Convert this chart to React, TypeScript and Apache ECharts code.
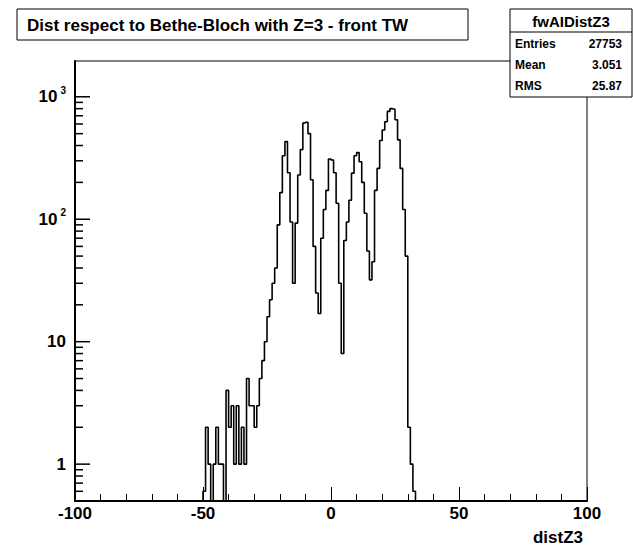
import React, { useEffect, useRef } from "react";
import * as echarts from "echarts";

// ---- data ----
const histTitle = "Dist respect to Bethe-Bloch with Z=3 - front TW";
const histName = "fwAIDistZ3";
const statsLabels = ["Entries", "Mean", "RMS"];
const statsValues = ["27753", "3.051", "25.87"];
const xAxisTitle = "distZ3";

// low edges of the (1 unit wide) bins that hold entries
const binLowEdges = [
  -50, -49, -48, -47, -46, -45, -44, -43, -42, -41,
  -40, -39, -38, -37, -36, -35, -34, -33, -32, -31,
  -30, -29, -28, -27, -26, -25, -24, -23, -22, -21,
  -20, -19, -18, -17, -16, -15, -14, -13, -12, -11,
  -10, -9, -8, -7, -6, -5, -4, -3, -2, -1,
  0, 1, 2, 3, 4, 5, 6, 7, 8, 9,
  10, 11, 12, 13, 14, 15, 16, 17, 18, 19,
  20, 21, 22, 23, 24, 25, 26, 27, 28, 29,
  30, 31, 32,
];
const binCounts = [
  0.6, 2, 1, 0, 1, 2, 1, 1, 0, 4,
  2, 3, 1, 3, 1, 2, 1, 5, 3, 3,
  2, 3, 5, 7, 10, 16, 22, 30, 40, 90,
  165, 330, 430, 240, 95, 30, 93, 230, 370, 610,
  620, 500, 210, 60, 25, 17, 70, 120, 172, 310,
  305, 240, 135, 30, 8, 67, 95, 143, 238, 330,
  350, 295, 200, 112, 55, 32, 45, 172, 260, 440,
  535, 625, 760, 800, 790, 650, 445, 260, 120, 50,
  2, 1, 0.6,
];

const xRange = [-100, 100];
const xMajorStep = 50;
const yRange = [0.5, 1960];
const yMajorTicks = [1, 10, 100, 1000];
const yMinorTicks = [
  0.6, 0.7, 0.8, 0.9,
  2, 3, 4, 5, 6, 7, 8, 9,
  20, 30, 40, 50, 60, 70, 80, 90,
  200, 300, 400, 500, 600, 700, 800, 900,
];

const FONT = "'Liberation Sans', Arial, Helvetica, sans-serif";

export default function App() {
  const ref = useRef<HTMLDivElement>(null);

  useEffect(() => {
    if (!ref.current) return;
    const chart = echarts.init(ref.current, null, { renderer: "svg" });

    const floor = yRange[0];
    const stepData: number[][] = [[xRange[0], floor]];
    binLowEdges.forEach((e, i) => stepData.push([e, Math.max(binCounts[i], floor)]));
    stepData.push([binLowEdges[binLowEdges.length - 1] + 1, floor]);
    stepData.push([xRange[1], floor]);

    const tickData = [
      ...yMajorTicks.map((v) => [xRange[0], v, 1]),
      ...yMinorTicks.map((v) => [xRange[0], v, 0]),
    ];

    const graphics: any[] = [
      {
        type: "rect",
        z: 100,
        shape: { x: 17, y: 9, width: 451, height: 31 },
        style: { fill: "#fff", stroke: "#000", lineWidth: 1 },
      },
      {
        type: "text",
        z: 101,
        x: 27,
        y: 25,
        style: {
          text: histTitle,
          fill: "#000",
          font: "bold 17px " + FONT,
          textAlign: "left",
          textVerticalAlign: "middle",
        },
      },
      {
        type: "rect",
        z: 100,
        shape: { x: 510, y: 9, width: 122, height: 88 },
        style: { fill: "#fff", stroke: "#000", lineWidth: 1 },
      },
      {
        type: "line",
        z: 101,
        shape: { x1: 510, y1: 32, x2: 632, y2: 32 },
        style: { stroke: "#000", lineWidth: 1 },
      },
      {
        type: "text",
        z: 101,
        x: 571,
        y: 21,
        style: {
          text: histName,
          fill: "#000",
          font: "bold 15px " + FONT,
          textAlign: "center",
          textVerticalAlign: "middle",
        },
      },
      ...statsLabels.map((s, i) => ({
        type: "text",
        z: 101,
        x: 515,
        y: 44 + i * 21,
        style: {
          text: s,
          fill: "#000",
          font: "bold 12px " + FONT,
          textAlign: "left",
          textVerticalAlign: "middle",
        },
      })),
      ...statsValues.map((s, i) => ({
        type: "text",
        z: 101,
        x: 622,
        y: 44 + i * 21,
        style: {
          text: s,
          fill: "#000",
          font: "bold 12px " + FONT,
          textAlign: "right",
          textVerticalAlign: "middle",
        },
      })),
      {
        type: "text",
        z: 101,
        x: 583,
        y: 537,
        style: {
          text: xAxisTitle,
          fill: "#000",
          font: "bold 17px " + FONT,
          textAlign: "right",
          textVerticalAlign: "middle",
        },
      },
    ];

    const option: any = {
      animation: false,
      grid: {
        left: 75,
        top: 61,
        width: 512,
        height: 440,
        show: true,
        borderColor: "#000",
        borderWidth: 1,
      },
      xAxis: {
        type: "value",
        min: xRange[0],
        max: xRange[1],
        interval: xMajorStep,
        axisLine: { show: true, onZero: false, lineStyle: { color: "#000", width: 2 } },
        axisTick: { show: true, inside: true, length: 14, lineStyle: { color: "#000", width: 1 } },
        minorTick: { show: true, splitNumber: 5, length: 7, lineStyle: { color: "#000", width: 1 } },
        splitLine: { show: false },
        minorSplitLine: { show: false },
        axisLabel: {
          color: "#000",
          fontFamily: FONT,
          fontWeight: "bold",
          fontSize: 17,
          margin: 4,
          formatter: (v: number) => String(v),
        },
      },
      yAxis: {
        type: "log",
        logBase: 10,
        min: yRange[0],
        max: yRange[1],
        axisLine: { show: true, onZero: false, lineStyle: { color: "#000", width: 2 } },
        axisTick: { show: false },
        splitLine: { show: false },
        axisLabel: {
          color: "#000",
          fontFamily: FONT,
          fontWeight: "bold",
          fontSize: 17,
          margin: 9,
          formatter: (v: number) => {
            const k = Math.round(Math.log10(v));
            if (Math.abs(Math.log10(v) - k) > 1e-6 || k < 0) return "";
            if (k === 0) return "1";
            if (k === 1) return "10";
            return "10{sup|" + k + "}";
          },
          rich: {
            sup: {
              fontFamily: FONT,
              fontWeight: "bold",
              fontSize: 10,
              color: "#000",
              padding: [0, 0, 13, 3],
            },
          },
        },
      },
      series: [
        {
          type: "line",
          data: stepData,
          step: "end",
          symbol: "none",
          lineStyle: { color: "#000", width: 1.6 },
        },
        {
          type: "custom",
          data: tickData,
          encode: { x: 0, y: 1 },
          clip: false,
          renderItem: (params: any, api: any) => {
            const p = api.coord([api.value(0), api.value(1)]);
            const len = api.value(2) ? 15 : 8;
            return {
              type: "line",
              shape: { x1: p[0], y1: p[1], x2: p[0] + len, y2: p[1] },
              style: { stroke: "#000", lineWidth: 1.5 },
            };
          },
        },
      ],
    };

    chart.setOption(option);
    chart.setOption({ graphic: graphics });
    return () => chart.dispose();
  }, []);

  return (
    <div
      ref={ref}
      style={{ position: "fixed", left: 0, top: 0, width: 633, height: 547, background: "#fff" }}
    />
  );
}
